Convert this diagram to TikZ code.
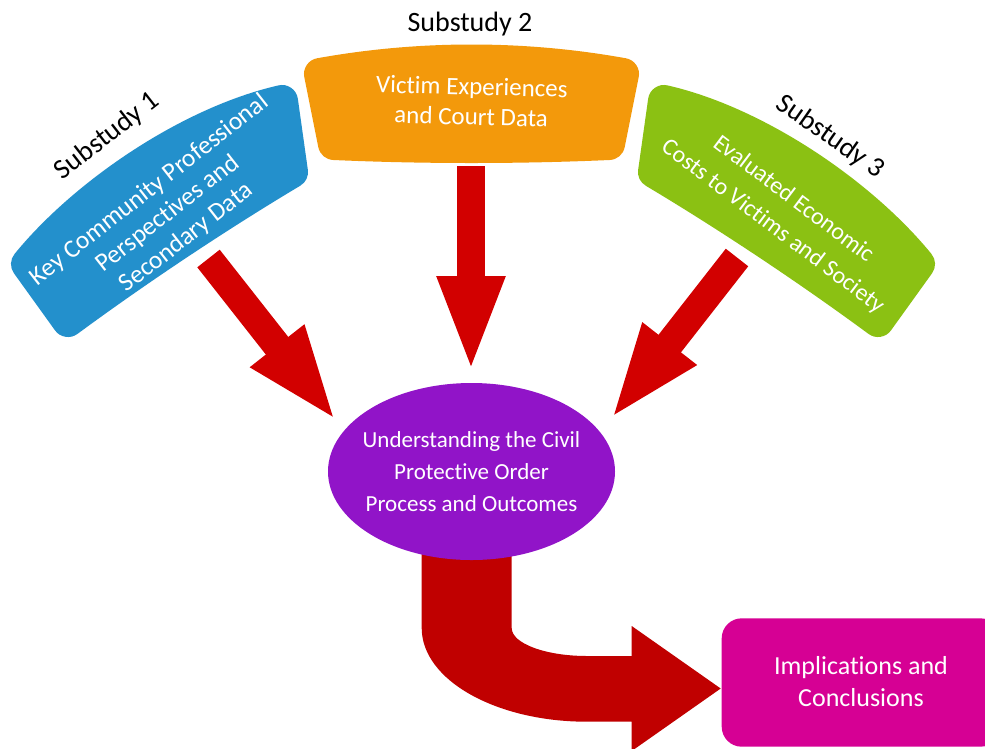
\documentclass[tikz,border=0pt]{standalone}
\usepackage{fontspec}
\setmainfont{Carlito}[Ligatures=NoCommon]
\usetikzlibrary{arrows.meta,shapes.geometric}
\definecolor{cblue}{RGB}{35,144,204}
\definecolor{corange}{RGB}{243,153,11}
\definecolor{cgreen}{RGB}{139,193,19}
\definecolor{cpurple}{RGB}{145,20,200}
\definecolor{cpink}{RGB}{214,0,148}
\definecolor{cred}{RGB}{210,0,0}
\definecolor{cdred}{RGB}{192,0,0}
\begin{document}
\begin{tikzpicture}[x=1pt,y=-1pt,
  boxtext/.style={text=white, align=center, inner sep=0pt},
  lbl/.style={text=black, inner sep=0pt, font=\fontsize{28}{34}\selectfont},
  redarrow/.style={draw=cred, line width=28.5pt, -{Triangle[length=97pt,width=61pt]}},
  band/.style={line width=32pt, line join=round}]
\useasboundingbox (0,0) rectangle (985,748);
\clip (0,0) rectangle (985,748);
\fill[white] (0,0) rectangle (985,748);

% substudy boxes
\filldraw[corange, band] (320,74) .. controls (420,56) and (523,56) .. (623,74) -- (609,144) .. controls (520,148) and (423,148) .. (334,144) -- cycle;
\filldraw[cblue, band] (27,264) .. controls (85,193) and (190,122) .. (282,101) -- (292,172) .. controls (220,215) and (140,268) .. (68,321) -- cycle;
\begin{scope}[xshift=946pt, xscale=-1]
\filldraw[cgreen, band] (27,264) .. controls (85,193) and (190,122) .. (282,101) -- (292,172) .. controls (220,215) and (140,268) .. (68,321) -- cycle;
\end{scope}

% arrows
\coordinate (t1) at (208.5,258.5); \coordinate (h1) at (337,422);
\coordinate (t2) at (471,166);     \coordinate (h2) at (471,373);
\coordinate (t3) at (737,257.5);   \coordinate (h3) at (610,420);
\draw[redarrow] (t1) -- (h1);
\draw[redarrow] (t2) -- (h2);
\draw[redarrow] (t3) -- (h3);

% bent arrow
\fill[cdred] (421.7,540) -- (421.7,628) .. controls (421.7,680) and (496,721.7) .. (587,721.7) -- (631.7,721.7) -- (631.7,751) -- (720.7,688.5) -- (631.7,626) -- (631.7,656) -- (587,656) .. controls (545.6,656) and (511.7,643.5) .. (511.7,628) -- (511.7,540) -- cycle;

% central ellipse
\node[ellipse, fill=cpurple, minimum width=287pt, minimum height=177pt, inner xsep=-12pt, inner ysep=0pt, text=white, align=center, font=\fontsize{23}{32}\selectfont] (core) at (471.5,471.5) {Understanding the Civil\\Protective Order\\Process and Outcomes};

% conclusions box
\node[rectangle, rounded corners=20pt, fill=cpink, minimum width=278.6pt, minimum height=128.4pt, text=white, align=center, font=\fontsize{26}{32}\selectfont] (impl) at (861,682.5) {\raisebox{3pt}{Implications and}\\\raisebox{3pt}{Conclusions}};

% box texts
\node[boxtext, font=\fontsize{25}{30}\selectfont, rotate=-1.5] (b2) at (471.5,101.5) {Victim Experiences\\and Court Data};
\node[boxtext, font=\fontsize{25.5}{30}\selectfont, rotate=38] (b1) at (168,214) {Key Community Professional\\Perspectives and\\Secondary Data};
\node[boxtext, font=\fontsize{24}{34}\selectfont, rotate=-37] (b3) at (783,213) {Evaluated Economic\\Costs to Victims and Society};

% labels
\node[lbl, anchor=base] (s2) at (470,31.5) {Substudy 2};
\node[lbl, anchor=base, rotate=38] (s1) at (112,142) {Substudy 1};
\node[lbl, anchor=base, rotate=-35] (s3) at (826,143) {Substudy 3};
\end{tikzpicture}
\end{document}
